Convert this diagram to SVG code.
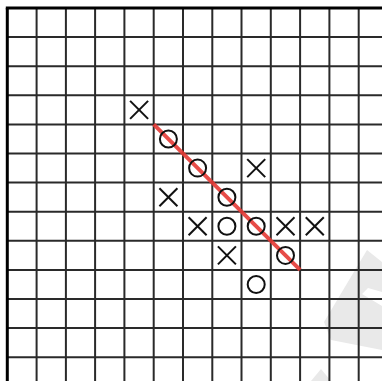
<svg xmlns="http://www.w3.org/2000/svg" xmlns:xlink="http://www.w3.org/1999/xlink" width="382" height="381" viewBox="0 0 382 381">
<style>
.grid line{stroke:#2a2a2a;stroke-width:2}
.border{stroke:#000;stroke-width:3}
.mk{fill:none;stroke:#111;stroke-width:2}
.win{stroke:#e53935;stroke-width:4;stroke-linecap:butt;opacity:0.9}
.wm{fill:#e9e9e9}
</style>
<defs>
<g id="X" class="mk"><line x1="-9" y1="-9" x2="9" y2="9"/><line x1="-9" y1="9" x2="9" y2="-9"/></g>
<circle id="O" class="mk" r="8.5"/>
</defs>
<rect width="382" height="381" fill="#fff"/>
<g id="watermark">
<polygon class="wm" points="367,250 382,262 382,292 368,288 362,294 382,306 382,350 331,340 324,322"/>
<polygon class="wm" points="321,369 331,381 311,381"/>
</g>
<g class="grid">
<line x1="36.6" y1="8" x2="36.6" y2="381"/>
<line x1="65.9" y1="8" x2="65.9" y2="381"/>
<line x1="95.1" y1="8" x2="95.1" y2="381"/>
<line x1="124.4" y1="8" x2="124.4" y2="381"/>
<line x1="153.7" y1="8" x2="153.7" y2="381"/>
<line x1="183" y1="8" x2="183" y2="381"/>
<line x1="212.3" y1="8" x2="212.3" y2="381"/>
<line x1="241.5" y1="8" x2="241.5" y2="381"/>
<line x1="270.8" y1="8" x2="270.8" y2="381"/>
<line x1="300.1" y1="8" x2="300.1" y2="381"/>
<line x1="329.4" y1="8" x2="329.4" y2="381"/>
<line x1="358.7" y1="8" x2="358.7" y2="381"/>
<line x1="7" y1="37.1" x2="382" y2="37.1"/>
<line x1="7" y1="66.2" x2="382" y2="66.2"/>
<line x1="7" y1="95.3" x2="382" y2="95.3"/>
<line x1="7" y1="124.4" x2="382" y2="124.4"/>
<line x1="7" y1="153.5" x2="382" y2="153.5"/>
<line x1="7" y1="182.6" x2="382" y2="182.6"/>
<line x1="7" y1="211.7" x2="382" y2="211.7"/>
<line x1="7" y1="240.8" x2="382" y2="240.8"/>
<line x1="7" y1="269.9" x2="382" y2="269.9"/>
<line x1="7" y1="299" x2="382" y2="299"/>
<line x1="7" y1="328.1" x2="382" y2="328.1"/>
<line x1="7" y1="357.2" x2="382" y2="357.2"/>
</g>
<line class="border" x1="5.8" y1="8" x2="382" y2="8"/>
<line class="border" x1="7.3" y1="8" x2="7.3" y2="381"/>
<g id="connectors">
<line class="win" x1="153.7" y1="124.4" x2="300.1" y2="269.9"/>
</g>
<g id="n-x-r3c4"><use xlink:href="#X" x="139.1" y="109.9"/></g>
<g id="n-o-r4c5"><use xlink:href="#O" x="168.4" y="139"/></g>
<g id="n-o-r5c6"><use xlink:href="#O" x="197.6" y="168.1"/></g>
<g id="n-x-r5c8"><use xlink:href="#X" x="256.2" y="168.1"/></g>
<g id="n-x-r6c5"><use xlink:href="#X" x="168.4" y="197.2"/></g>
<g id="n-o-r6c7"><use xlink:href="#O" x="226.9" y="197.2"/></g>
<g id="n-x-r7c6"><use xlink:href="#X" x="197.6" y="226.3"/></g>
<g id="n-o-r7c7"><use xlink:href="#O" x="226.9" y="226.3"/></g>
<g id="n-o-r7c8"><use xlink:href="#O" x="256.2" y="226.3"/></g>
<g id="n-x-r7c9"><use xlink:href="#X" x="285.5" y="226.3"/></g>
<g id="n-x-r7c10"><use xlink:href="#X" x="314.8" y="226.3"/></g>
<g id="n-x-r8c7"><use xlink:href="#X" x="226.9" y="255.4"/></g>
<g id="n-o-r8c9"><use xlink:href="#O" x="285.5" y="255.4"/></g>
<g id="n-o-r9c8"><use xlink:href="#O" x="256.2" y="284.5"/></g>
</svg>
